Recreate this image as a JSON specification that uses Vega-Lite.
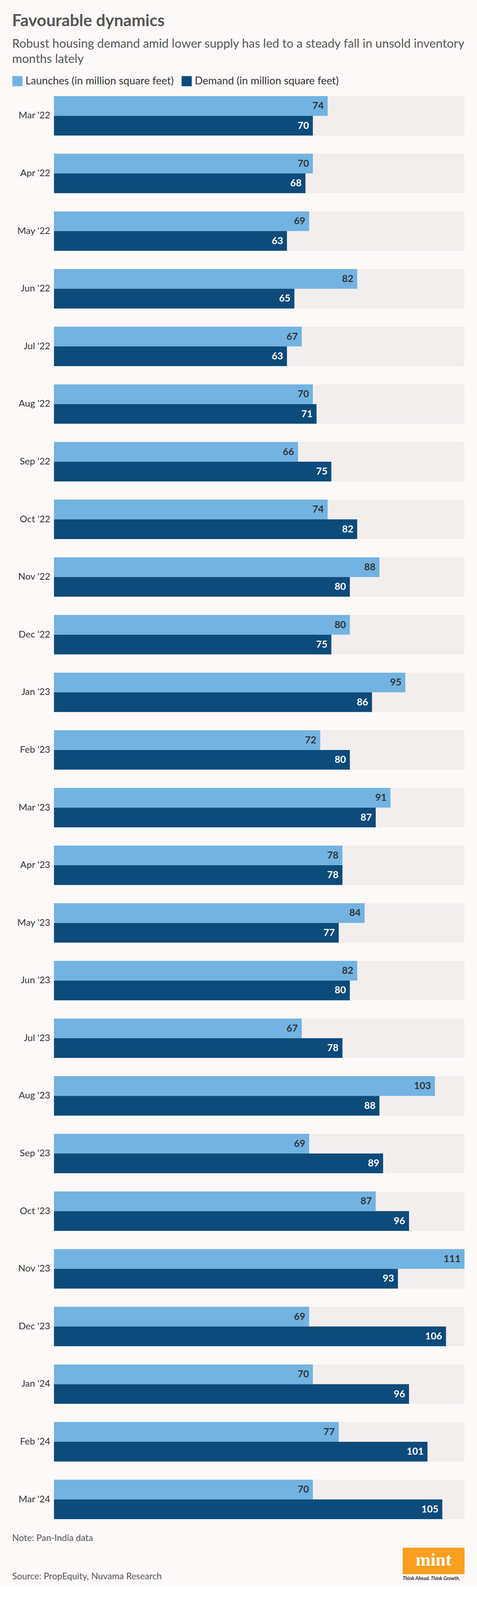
{
  "$schema": "https://vega.github.io/schema/vega-lite/v6.json",
  "background": "#fdf9f8",
  "padding": {"left": 31, "right": 31, "top": 33, "bottom": 14},
  "config": {"view": {"stroke": null}, "font": "Lato"},
  "title": {
    "text": "Favourable dynamics",
    "subtitle": ["Robust housing demand amid lower supply has led to a steady fall in unsold inventory", "months lately"],
    "anchor": "start",
    "frame": "bounds",
    "font": "Lato",
    "fontSize": 42,
    "fontWeight": "bold",
    "color": "#555555",
    "subtitleFont": "Lato",
    "subtitleFontSize": 31,
    "subtitleColor": "#555555",
    "subtitleLineHeight": 39,
    "subtitlePadding": 22,
    "offset": 26
  },
  "datasets": {
    "bars": [
      {"month": "Mar '22", "series": "Launches (in million square feet)", "value": 74},
      {"month": "Mar '22", "series": "Demand (in million square feet)", "value": 70},
      {"month": "Apr '22", "series": "Launches (in million square feet)", "value": 70},
      {"month": "Apr '22", "series": "Demand (in million square feet)", "value": 68},
      {"month": "May '22", "series": "Launches (in million square feet)", "value": 69},
      {"month": "May '22", "series": "Demand (in million square feet)", "value": 63},
      {"month": "Jun '22", "series": "Launches (in million square feet)", "value": 82},
      {"month": "Jun '22", "series": "Demand (in million square feet)", "value": 65},
      {"month": "Jul '22", "series": "Launches (in million square feet)", "value": 67},
      {"month": "Jul '22", "series": "Demand (in million square feet)", "value": 63},
      {"month": "Aug '22", "series": "Launches (in million square feet)", "value": 70},
      {"month": "Aug '22", "series": "Demand (in million square feet)", "value": 71},
      {"month": "Sep '22", "series": "Launches (in million square feet)", "value": 66},
      {"month": "Sep '22", "series": "Demand (in million square feet)", "value": 75},
      {"month": "Oct '22", "series": "Launches (in million square feet)", "value": 74},
      {"month": "Oct '22", "series": "Demand (in million square feet)", "value": 82},
      {"month": "Nov '22", "series": "Launches (in million square feet)", "value": 88},
      {"month": "Nov '22", "series": "Demand (in million square feet)", "value": 80},
      {"month": "Dec '22", "series": "Launches (in million square feet)", "value": 80},
      {"month": "Dec '22", "series": "Demand (in million square feet)", "value": 75},
      {"month": "Jan '23", "series": "Launches (in million square feet)", "value": 95},
      {"month": "Jan '23", "series": "Demand (in million square feet)", "value": 86},
      {"month": "Feb '23", "series": "Launches (in million square feet)", "value": 72},
      {"month": "Feb '23", "series": "Demand (in million square feet)", "value": 80},
      {"month": "Mar '23", "series": "Launches (in million square feet)", "value": 91},
      {"month": "Mar '23", "series": "Demand (in million square feet)", "value": 87},
      {"month": "Apr '23", "series": "Launches (in million square feet)", "value": 78},
      {"month": "Apr '23", "series": "Demand (in million square feet)", "value": 78},
      {"month": "May '23", "series": "Launches (in million square feet)", "value": 84},
      {"month": "May '23", "series": "Demand (in million square feet)", "value": 77},
      {"month": "Jun '23", "series": "Launches (in million square feet)", "value": 82},
      {"month": "Jun '23", "series": "Demand (in million square feet)", "value": 80},
      {"month": "Jul '23", "series": "Launches (in million square feet)", "value": 67},
      {"month": "Jul '23", "series": "Demand (in million square feet)", "value": 78},
      {"month": "Aug '23", "series": "Launches (in million square feet)", "value": 103},
      {"month": "Aug '23", "series": "Demand (in million square feet)", "value": 88},
      {"month": "Sep '23", "series": "Launches (in million square feet)", "value": 69},
      {"month": "Sep '23", "series": "Demand (in million square feet)", "value": 89},
      {"month": "Oct '23", "series": "Launches (in million square feet)", "value": 87},
      {"month": "Oct '23", "series": "Demand (in million square feet)", "value": 96},
      {"month": "Nov '23", "series": "Launches (in million square feet)", "value": 111},
      {"month": "Nov '23", "series": "Demand (in million square feet)", "value": 93},
      {"month": "Dec '23", "series": "Launches (in million square feet)", "value": 69},
      {"month": "Dec '23", "series": "Demand (in million square feet)", "value": 106},
      {"month": "Jan '24", "series": "Launches (in million square feet)", "value": 70},
      {"month": "Jan '24", "series": "Demand (in million square feet)", "value": 96},
      {"month": "Feb '24", "series": "Launches (in million square feet)", "value": 77},
      {"month": "Feb '24", "series": "Demand (in million square feet)", "value": 101},
      {"month": "Mar '24", "series": "Launches (in million square feet)", "value": 70},
      {"month": "Mar '24", "series": "Demand (in million square feet)", "value": 105}
    ]
  },
  "bounds": "flush",
  "spacing": 73,
  "vconcat": [
    {
      "width": 1050,
      "height": 3643,
      "data": {"name": "bars"},
      "layer": [
        {
          "transform": [{"filter": "datum.series === 'Launches (in million square feet)'"}],
          "mark": {"type": "bar", "color": "#f2eeee"},
          "encoding": {
            "y": {"field": "month", "type": "nominal", "sort": null,
                  "scale": {"paddingInner": 0.3164, "paddingOuter": 0},
                  "axis": {"title": null, "ticks": false, "domain": false, "labelFont": "Lato", "labelFontSize": 24, "labelColor": "#333333", "labelPadding": 10}},
            "x": {"datum": 111, "type": "quantitative", "axis": null}
          }
        },
        {
          "mark": {"type": "bar"},
          "encoding": {
            "y": {"field": "month", "type": "nominal", "sort": null},
            "yOffset": {"field": "series", "type": "nominal", "sort": null, "scale": {"paddingInner": 0, "paddingOuter": 0}},
            "x": {"field": "value", "type": "quantitative", "scale": {"domain": [0, 111], "nice": false, "zero": true}, "axis": null},
            "color": {
              "field": "series", "type": "nominal", "sort": null,
              "scale": {"domain": ["Launches (in million square feet)", "Demand (in million square feet)"], "range": ["#72b3e2", "#0c4b7b"]},
              "legend": {
                "orient": "none", "legendX": -107, "legendY": -52, "direction": "horizontal",
                "title": null, "symbolType": "square", "symbolSize": 676, "symbolStrokeWidth": 0,
                "labelFont": "Lato", "labelFontSize": 27, "labelColor": "#333333", "labelOffset": 7,
                "labelLimit": 0, "columnPadding": 19
              }
            }
          }
        },
        {
          "mark": {"type": "text", "align": "right", "baseline": "middle", "dx": -10, "font": "Lato", "fontWeight": "bold", "fontSize": 25},
          "encoding": {
            "y": {"field": "month", "type": "nominal", "sort": null},
            "yOffset": {"field": "series", "type": "nominal", "sort": null},
            "x": {"field": "value", "type": "quantitative"},
            "text": {"field": "value", "type": "quantitative"},
            "color": {"condition": {"test": "datum.series === 'Launches (in million square feet)'", "value": "#333333"}, "value": "#ffffff"}
          }
        }
      ]
    },
    {
      "bounds": "flush",
      "spacing": 60,
      "hconcat": [
        {
          "width": 832,
          "height": 68,
          "data": {"values": [{}]},
          "title": {
            "text": ["Note: Pan-India data", "Source: PropEquity, Nuvama Research"],
            "lineHeight": 98,
            "orient": "top",
            "anchor": "start",
            "frame": "group",
            "dx": -107,
            "offset": -86,
            "font": "Lato",
            "fontSize": 23,
            "fontWeight": "normal",
            "color": "#555555"
          },
          "mark": {"type": "rect", "opacity": 0},
          "encoding": {}
        },
        {
          "width": 158,
          "height": 68,
          "data": {"values": [{}]},
          "title": {
            "text": "Think Ahead. Think Growth.",
            "orient": "bottom",
            "anchor": "start",
            "frame": "group",
            "offset": 5,
            "font": "Lato",
            "fontSize": 12.5,
            "fontStyle": "italic",
            "fontWeight": "bold",
            "color": "#333333"
          },
          "layer": [
            {"mark": {"type": "rect", "color": "#f99f1f"}, "encoding": {}},
            {"mark": {"type": "text", "font": "Liberation Serif", "fontWeight": "bold", "fontSize": 46, "color": "#ffffff", "baseline": "middle", "dy": -2}, "encoding": {"text": {"value": "mint"}}}
          ]
        }
      ]
    }
  ]
}
